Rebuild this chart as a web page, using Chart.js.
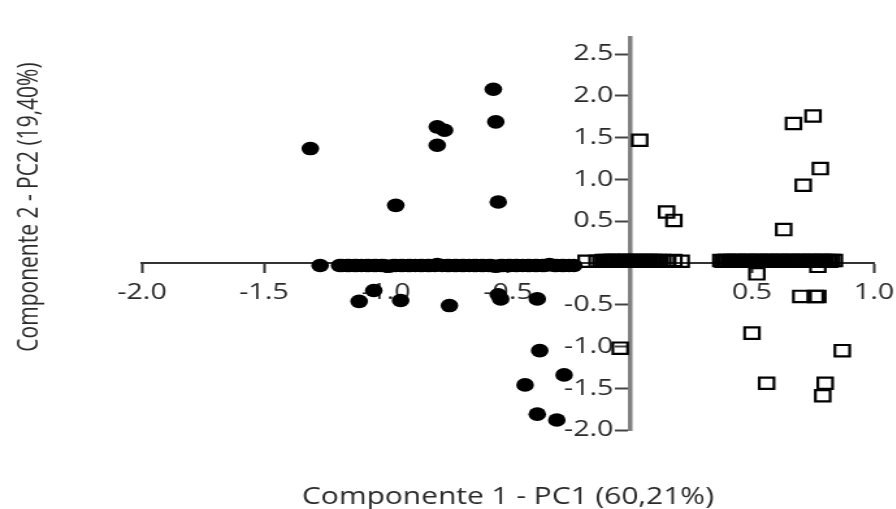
<!DOCTYPE html>
<html><head><meta charset="utf-8">
<script src="https://cdn.jsdelivr.net/npm/chart.js@4.4.1/dist/chart.umd.min.js"></script>
<style>
html,body{margin:0;padding:0;background:#fff;overflow:hidden;width:896px;height:509px}
#wrap{width:689px;height:509px;transform:scaleX(1.3);transform-origin:0 0}
canvas{display:block}
</style></head><body>
<div id="wrap"><canvas id="c" width="689" height="509"></canvas></div>
<script>
const xTitle = 'Componente 1 - PC1 (60,21%)';
const yTitle = 'Componente 2 - PC2 (19,40%)';
const xTicks = [-2.0, -1.5, -1.0, -0.5, 0.5, 1.0];
const yTicks = [-2.0, -1.5, -1.0, -0.5, 0.5, 1.0, 1.5, 2.0, 2.5];

// Group 1 (filled circles) off the PC1 axis
const circlesX = [-1.31, -0.79, -0.76, -0.79, -0.56, -0.55, -0.96, -0.54, -1.11, -1.05, -0.94, -0.74, -0.54, -0.53, -0.38, -0.37, -0.43, -0.27, -0.38, -0.30];
const circlesY = [1.37, 1.63, 1.59, 1.41, 2.08, 1.69, 0.69, 0.73, -0.46, -0.33, -0.45, -0.51, -0.38, -0.43, -0.43, -1.05, -1.46, -1.34, -1.81, -1.88];
// Group 1 points lying on the PC1 axis
const bandCirclesX = [-1.27, -1.19, -1.18, -1.16, -1.15, -1.13, -1.12, -1.10, -1.08, -1.07,
  -1.05, -1.04, -1.02, -1.01, -0.99, -0.97, -0.96, -0.94, -0.93, -0.91,
  -0.90, -0.88, -0.86, -0.85, -0.83, -0.82, -0.80, -0.79, -0.77, -0.75,
  -0.74, -0.72, -0.71, -0.69, -0.68, -0.66, -0.64, -0.63, -0.61, -0.60,
  -0.58, -0.57, -0.55, -0.53, -0.52, -0.50, -0.49, -0.47, -0.46, -0.44,
  -0.42, -0.41, -0.39, -0.38, -0.36, -0.35, -0.33, -0.31, -0.30, -0.28,
  -0.27, -0.25, -0.23];
const bandCirclesY = [-0.03, -0.03, -0.03, -0.03, -0.03, -0.03, -0.03, -0.03, -0.03, -0.03,
  -0.03, -0.03, -0.03, -0.03, -0.04, -0.03, -0.03, -0.03, -0.03, -0.03,
  -0.03, -0.03, -0.03, -0.03, -0.03, -0.03, -0.03, -0.02, -0.03, -0.03,
  -0.03, -0.03, -0.03, -0.03, -0.03, -0.03, -0.03, -0.03, -0.03, -0.03,
  -0.03, -0.03, -0.04, -0.03, -0.03, -0.03, -0.03, -0.03, -0.03, -0.03,
  -0.03, -0.03, -0.03, -0.03, -0.03, -0.03, -0.02, -0.03, -0.03, -0.03,
  -0.03, -0.03, -0.03];

// Group 2 (open squares) off the PC1 axis
const squaresX = [0.04, 0.67, 0.75, 0.78, 0.71, 0.15, 0.18, 0.63, 0.52, 0.77, 0.70, 0.76, 0.77, 0.50, 0.87, 0.56, 0.80, 0.79, -0.04];
const squaresY = [1.47, 1.67, 1.76, 1.13, 0.93, 0.61, 0.51, 0.40, -0.13, -0.04, -0.40, -0.40, -0.40, -0.84, -1.05, -1.44, -1.44, -1.59, -1.02];
// Group 2 points lying on the PC1 axis
const bandSquaresX = [-0.18, -0.135, -0.11, -0.102, -0.094, -0.085, -0.077, -0.069, -0.06, -0.052,
  -0.044, -0.035, -0.027, -0.019, -0.01, -0.002, 0.006, 0.015, 0.023, 0.031,
  0.04, 0.048, 0.056, 0.065, 0.073, 0.081, 0.09, 0.098, 0.106, 0.115,
  0.123, 0.135, 0.155, 0.18, 0.21,
  0.372, 0.381, 0.39, 0.398, 0.407, 0.416, 0.425, 0.433, 0.442, 0.451,
  0.46, 0.468, 0.477, 0.486, 0.495, 0.503, 0.512, 0.521, 0.53, 0.538,
  0.547, 0.556, 0.565, 0.573, 0.582, 0.591, 0.6, 0.608, 0.617, 0.626,
  0.635, 0.643, 0.652, 0.661, 0.67, 0.678, 0.687, 0.696, 0.705, 0.713,
  0.722, 0.731, 0.74, 0.748, 0.757, 0.766, 0.775, 0.783, 0.792, 0.801,
  0.81, 0.818, 0.827, 0.838];
const bandSquaresY = [0.02, 0.02, 0.03, 0.02, 0.03, 0.02, 0.03, 0.03, 0.02, 0.03,
  0.02, 0.03, 0.02, 0.03, 0.03, 0.02, 0.03, 0.02, 0.03, 0.02,
  0.03, 0.02, 0.03, 0.03, 0.02, 0.03, 0.02, 0.03, 0.02, 0.03,
  0.02, 0.03, 0.02, 0.03, 0.02,
  0.03, 0.02, 0.03, 0.03, 0.02, 0.03, 0.02, 0.03, 0.03, 0.02,
  0.03, 0.02, 0.03, 0.03, 0.02, 0.03, 0.02, 0.03, 0.03, 0.02,
  0.03, 0.02, 0.03, 0.03, 0.02, 0.03, 0.02, 0.03, 0.03, 0.02,
  0.03, 0.02, 0.03, 0.03, 0.02, 0.03, 0.02, 0.03, 0.03, 0.02,
  0.03, 0.02, 0.03, 0.03, 0.02, 0.03, 0.02, 0.03, 0.03, 0.02,
  0.03, 0.02, 0.03, 0.03];

const pts = (xs, ys) => xs.map((x, i) => ({x: x, y: ys[i]}));

Chart.defaults.font.family = "'Open Sans', 'Noto Sans', sans-serif";
Chart.defaults.color = '#2a2a2a';

const zeroFit = s => {
  if (s.isHorizontal()) s.height = 0; else s.width = 0;
  s.paddingLeft = 0; s.paddingRight = 0; s.paddingTop = 0; s.paddingBottom = 0;
};

const yLabelFix = {
  id: 'yLabelFix',
  beforeDraw(chart) {
    const s = chart.scales.y;
    const x0 = chart.scales.x.getPixelForValue(0);
    const off = s.options.border.width / 2 + s.options.grid.tickLength + s.options.ticks.padding;
    s.getLabelItems(chart.chartArea).forEach(it => {
      it.options.translation[0] = x0 - off;
      it.options.textAlign = 'right';
    });
  }
};

const axisTitles = {
  id: 'axisTitles',
  afterDraw(chart) {
    const {ctx, chartArea} = chart;
    ctx.save();
    ctx.fillStyle = '#2a2a2a';
    ctx.textAlign = 'center';
    ctx.textBaseline = 'middle';
    ctx.font = "23px 'Open Sans'";
    ctx.fillText(xTitle, (chartArea.left + chartArea.right) / 2, 497);
    ctx.translate(23, 207);
    ctx.rotate(-Math.PI / 2);
    ctx.font = "21px 'Open Sans'";
    ctx.fillText(yTitle, 0, 0);
    ctx.restore();
  }
};

new Chart(document.getElementById('c'), {
  type: 'scatter',
  data: {
    datasets: [
      {
        label: 'Grupo 1',
        data: pts(circlesX, circlesY).concat(pts(bandCirclesX, bandCirclesY)),
        pointStyle: 'circle',
        pointRadius: 6.8,
        pointBorderWidth: 0,
        backgroundColor: '#000',
        borderColor: '#000'
      },
      {
        label: 'Grupo 2',
        data: pts(squaresX, squaresY).concat(pts(bandSquaresX, bandSquaresY)),
        pointStyle: 'rect',
        pointRadius: 8,
        pointBorderWidth: 2.2,
        backgroundColor: 'rgba(0,0,0,0)',
        borderColor: '#000'
      }
    ]
  },
  options: {
    responsive: false,
    animation: false,
    events: [],
    layout: {padding: {left: 109.2, right: 16.7, top: 37.5, bottom: 79}},
    plugins: {legend: {display: false}, tooltip: {enabled: false}},
    scales: {
      x: {
        type: 'linear', min: -2, max: 1,
        position: {y: 0},
        afterFit: zeroFit,
        afterBuildTicks: s => { s.ticks = xTicks.map(v => ({value: v})); },
        border: {display: true, color: '#333', width: 2},
        grid: {display: true, drawOnChartArea: false, drawTicks: true, tickLength: 9, tickColor: '#333', tickWidth: 2},
        ticks: {color: '#2a2a2a', font: {size: 22}, padding: 8, maxRotation: 0, autoSkip: false,
                callback: v => Number(v).toFixed(1)}
      },
      y: {
        type: 'linear', min: -2, max: 2.7,
        position: {x: 0},
        afterFit: zeroFit,
        afterBuildTicks: s => { s.ticks = yTicks.map(v => ({value: v})); },
        border: {display: true, color: '#808080', width: 3.5},
        grid: {display: true, drawOnChartArea: false, drawTicks: true, tickLength: 10, tickColor: '#444', tickWidth: 2},
        ticks: {color: '#2a2a2a', font: {size: 22}, padding: 1, autoSkip: false,
                callback: v => Number(v).toFixed(1)}
      }
    }
  },
  plugins: [yLabelFix, axisTitles]
});
</script>
</body></html>
